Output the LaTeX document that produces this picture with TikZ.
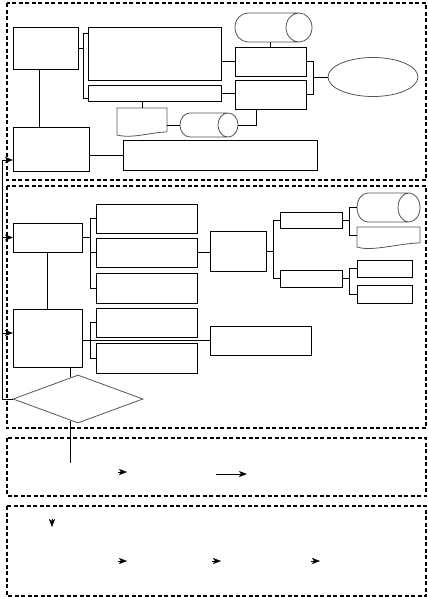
\documentclass[tikz,border=0pt]{standalone}
\usepackage{tikz}
\usetikzlibrary{arrows.meta,positioning,shapes.geometric}
\usepackage{xcolor}
\definecolor{flowgray}{HTML}{555555}
% outline of a lying drum on a named node: name, cap x radius, cap y radius
\newcommand{\drumoutline}[3]{%
  \draw[drumline] ([xshift=#2]#1.north west) -- ([xshift=-#2]#1.north east)
    ([xshift=-#2]#1.east) ellipse [x radius=#2,y radius=#3]
    ([xshift=-#2]#1.south east) -- ([xshift=#2]#1.south west)
    arc [start angle=270,end angle=90,x radius=#2,y radius=#3];}

\begin{document}
\begin{tikzpicture}[x=1pt,y=-1pt,
  box/.style={draw,line width=1pt,anchor=north west,inner sep=0pt,outer sep=0pt},
  docbox/.style={anchor=north west,inner sep=0pt,outer sep=0pt},
  docline/.style={draw=flowgray,line width=0.8pt},
  drumline/.style={draw=flowgray,line width=0.8pt},
  frame/.style={line width=1.8pt,dash pattern=on 4pt off 2.5pt},
  link/.style={line width=1pt},
  >={Stealth[length=8pt,width=6pt,inset=2pt]}]
\useasboundingbox (0,0) rectangle (428,597);

% dashed frames
\draw[frame] (7,3) rectangle (426,180);
\draw[frame] (7,186) rectangle (426,428);
\draw[frame] (7,438) rectangle (426,496);
\draw[frame] (7,506) rectangle (426,596);

% upper part
\node[box,minimum width=65pt,minimum height=42pt] (A1) at (13,27) {};
\node[box,minimum width=133pt,minimum height=53pt] (B1) at (88,27) {};
\node[box,minimum width=133pt,minimum height=16pt,below=5pt of B1] (B2) {};
\node[docbox,minimum width=50pt,minimum height=24pt] (C1) at (117,108) {};
\node[docbox,minimum width=58pt,minimum height=24pt] (C2) at (180,113) {};
\node[docbox,minimum width=77pt,minimum height=29pt] (D0) at (235,13) {};
\node[box,minimum width=71pt,minimum height=29pt] (D1) at (235,47) {};
\node[box,minimum width=71pt,minimum height=29pt,below=4pt of D1] (D2) {};
\node[draw=flowgray,ellipse,line width=0.8pt,minimum width=90pt,minimum height=39pt,inner sep=0pt] (ell) at (373,77) {};
\node[box,minimum width=76pt,minimum height=44pt] (A2) at (13,127) {};
\node[box,minimum width=194pt,minimum height=30pt] (E1) at (123,140) {};

\draw[docline] (C1.south east) -- (C1.north east) -- (C1.north west) -- ([yshift=-3pt]C1.south west)
  .. controls +(15,4) and +(-15,0) .. (C1.south east);
\drumoutline{C2}{10pt}{12pt}
\drumoutline{D0}{13pt}{14.5pt}

\draw[link] (A1.east) -- ++(5,0);
\draw[link] ([yshift=-6pt]B1.north west) -| ([xshift=-5pt,yshift=3pt]B2.south west) -- ([yshift=3pt]B2.south west);
\draw[link] ([xshift=-6pt]A1.south) -- ([xshift=-6pt]A1.south |- A2.north);
\draw[link] (D1.west) -- (D1.west -| B1.east);
\draw[link] (B2.east) -- (B2.east -| D2.west);
\draw[link] (D1.north) -- (D1.north |- D0.south);
\draw[link] (D1.east) -| ([xshift=7pt]D2.east) -- (D2.east);
\draw[link] (ell.west) -- ++(-15,0);
\draw[link] (C1.north) -- (C1.north |- B2.south);
\draw[link] (C2.west) -- (C2.west -| C1.east);
\draw[link] (C2.east) -| ([xshift=-14pt]D2.south);
\draw[link] (E1.west) -- (E1.west -| A2.east);

% middle part
\node[box,minimum width=69pt,minimum height=29pt] (BA1) at (13,223) {};
\node[box,minimum width=101pt,minimum height=29pt] (BB1) at (96,204) {};
\node[box,minimum width=101pt,minimum height=29pt,below=5pt of BB1] (BB2) {};
\node[box,minimum width=101pt,minimum height=30pt,below=6pt of BB2] (BB3) {};
\node[box,minimum width=56pt,minimum height=40pt] (BC1) at (210,231) {};
\node[box,minimum width=69pt,minimum height=58pt] (BA2) at (13,309) {};
\node[box,minimum width=101pt,minimum height=29pt] (BB4) at (96,308) {};
\node[box,minimum width=101pt,minimum height=30pt,below=6pt of BB4] (BB5) {};
\node[box,minimum width=101pt,minimum height=29pt] (BC2) at (210,326) {};
\node[draw=flowgray,diamond,aspect=2.7,line width=0.8pt,minimum width=130pt,minimum height=48pt,inner sep=0pt] (dia) at (78,399) {};
\node[box,minimum width=62pt,minimum height=16pt] (BD1) at (280,212) {};
\node[box,minimum width=62pt,minimum height=17pt] (BD2) at (280,270) {};
\node[docbox,minimum width=63pt,minimum height=29pt] (BE1) at (357,193) {};
\node[docbox,minimum width=63pt,minimum height=16pt] (BE2) at (357,227) {};
\node[box,minimum width=55pt,minimum height=17pt] (BE3) at (357,260) {};
\node[box,minimum width=55pt,minimum height=18pt] (BE4) at (357,285) {};

\drumoutline{BE1}{11pt}{14.5pt}
\draw[docline] (BE2.south east) -- (BE2.north east) -- (BE2.north west) -- ([yshift=-4pt]BE2.south west)
  .. controls +(15,5) and +(-20,0) .. (BE2.south east);

\draw[link] (BA1.east) -- ++(8,0);
\draw[link] (BB1.west) -| ([xshift=-6pt]BB3.west) -- (BB3.west);
\draw[link] (BB2.west) -- ++(-6,0);
\draw[link] (BB2.east) -- (BB2.east -| BC1.west);
\draw[link] (BA1.south) -- (BA2.north);
\draw[link] (BB4.west) -| ([xshift=-6pt]BB5.west) -- (BB5.west);
\draw[link] (BC2.west) -- (BC2.west -| BA2.east);
\draw[link] (BA2.south -| dia.108) -- (dia.108);
\draw[link] (BC1.east) -- ++(7,0);
\draw[link] (BD1.west) -| ([xshift=-7pt]BD2.west) -- (BD2.west);
\draw[link] (BD1.east) -- ++(7,0);
\draw[link] (BE1.west) -| ([xshift=-8pt]BE2.west) -- (BE2.west);
\draw[link] (BD2.east) -- ++(7,0);
\draw[link] (BE3.west) -| ([xshift=-8pt]BE4.west) -- (BE4.west);

% feedback
\draw[link,->] (dia.west) -| ([xshift=-11pt,yshift=-11pt]A2.west) -- ([yshift=-11pt]A2.west);
\draw[link,->] ([xshift=-11pt]BA1.west) -- (BA1.west);
\draw[link,->] ([xshift=-11pt,yshift=5pt]BA2.west) -- ([yshift=5pt]BA2.west);

% lower parts
\coordinate (down) at (71,463);
\draw[link] (dia.252) -- (dia.252 |- down);
\coordinate (t1) at (118,472);
\draw[->] (t1) -- ++(9,0);
\coordinate (t2) at (216,474);
\draw[link,->] (t2) -- ++(31,0);
\coordinate (u0) at (52,519);
\draw[->] (u0) -- ++(0,8);
\coordinate (u1) at (118,561);
\draw[->] (u1) -- ++(9,0);
\coordinate (u2) at (212,561);
\draw[->] (u2) -- ++(9,0);
\coordinate (u3) at (311,561);
\draw[->] (u3) -- ++(9,0);
\end{tikzpicture}
\end{document}
